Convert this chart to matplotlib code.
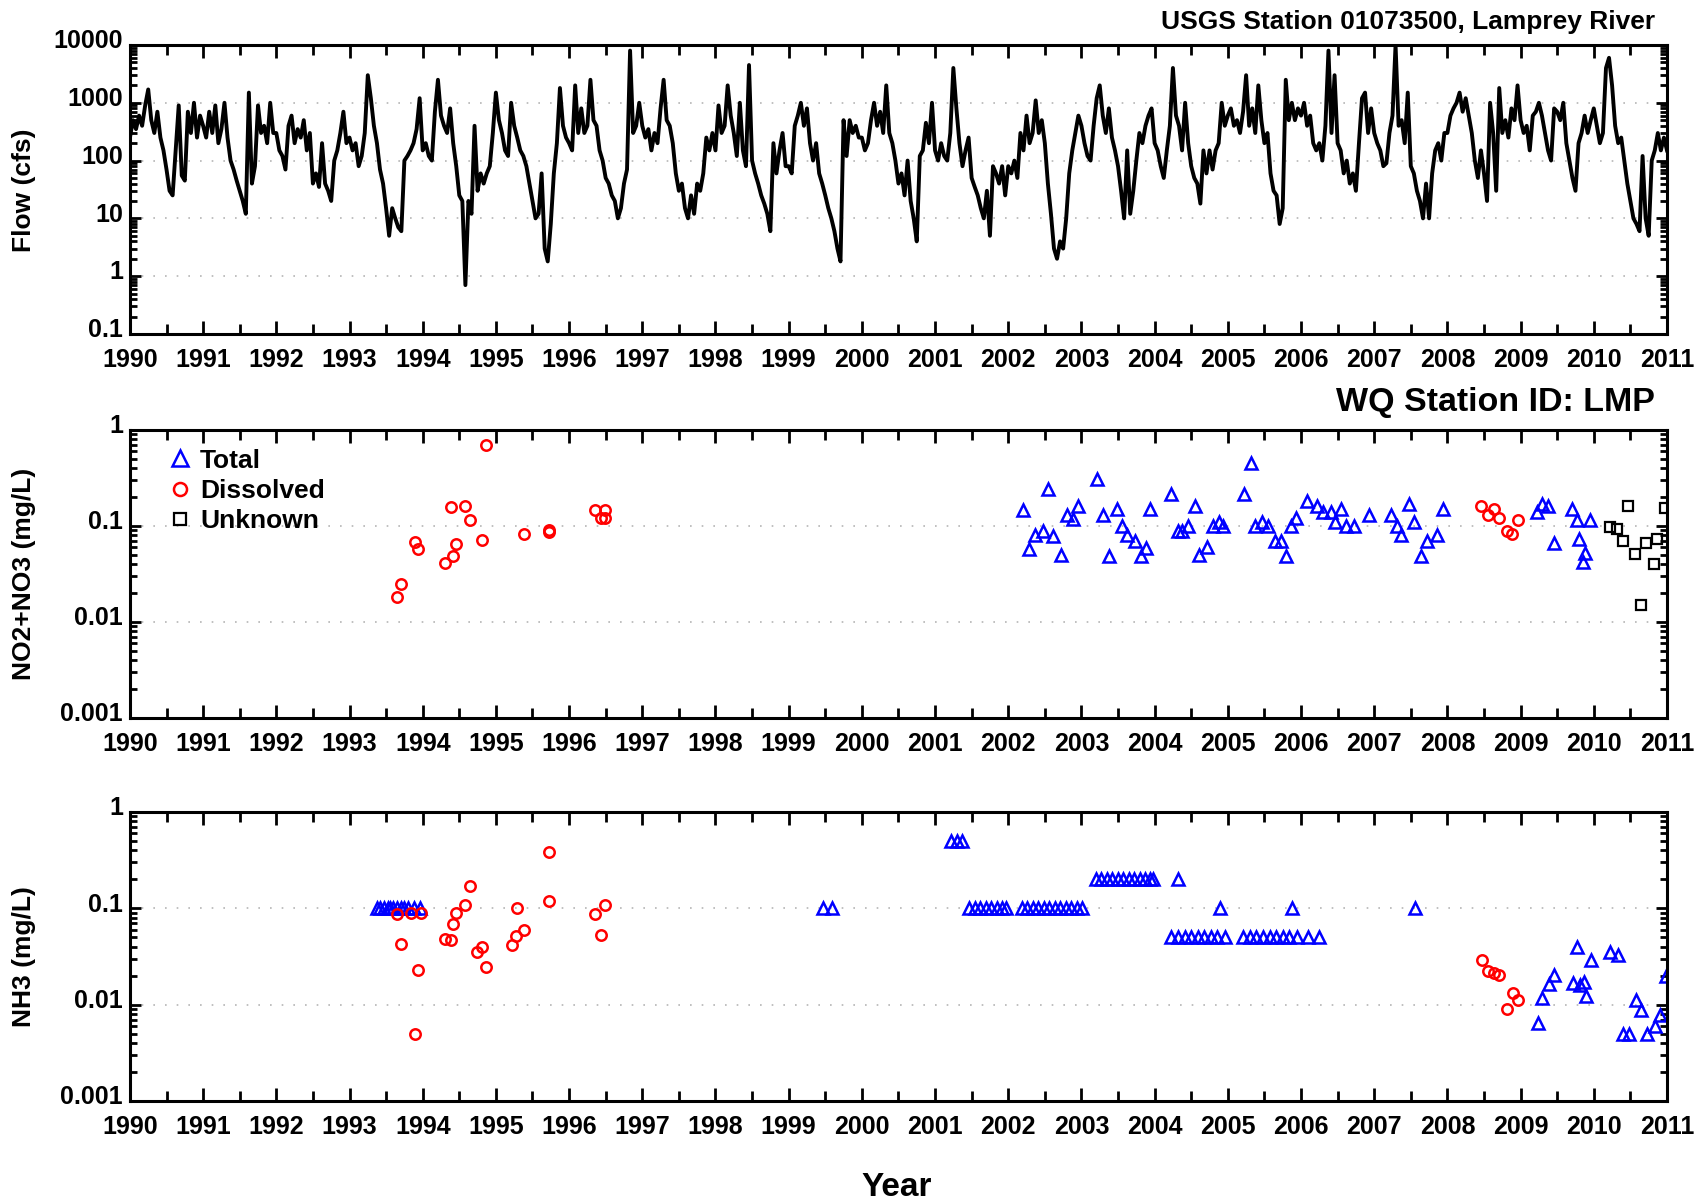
"""Lamprey River flow and nutrient concentrations, 1990-2011."""

import numpy as np
import matplotlib.pyplot as plt
import matplotlib.transforms as mtransforms
from matplotlib.lines import Line2D
from matplotlib.ticker import (FuncFormatter, LogLocator, MultipleLocator,
                               NullFormatter)

plt.rcParams["font.family"] = ["Liberation Sans", "DejaVu Sans"]
plt.rcParams["font.weight"] = "bold"

FLOW_START = 1990
FLOW_CFS = [
    250, 500, 350, 600, 400, 900, 1700, 500, 300, 700, 250, 150, 70, 30, 25, 150, 900, 55, 45, 700, 300, 1000, 250, 600,  # 1990
    400, 250, 700, 300, 900, 200, 350, 1000, 250, 100, 70, 45, 30, 20, 12, 1500, 40, 80, 900, 300, 400, 200, 1000, 300,  # 1991
    300, 150, 120, 70, 400, 600, 200, 350, 250, 500, 150, 300, 40, 60, 35, 200, 40, 30, 20, 100, 150, 300, 700, 200,  # 1992
    250, 150, 200, 80, 120, 300, 3000, 1200, 400, 200, 70, 40, 15, 5, 15, 10, 7, 6, 100, 120, 150, 200, 350, 1200,  # 1993
    150, 200, 120, 100, 700, 2500, 600, 400, 300, 800, 200, 80, 25, 20, 0.7, 20, 12, 400, 30, 60, 40, 60, 80, 300,  # 1994
    1500, 500, 300, 150, 120, 1000, 400, 250, 150, 120, 80, 40, 20, 10, 12, 60, 3, 1.8, 8, 60, 200, 1800, 400, 250,  # 1995
    200, 150, 2000, 300, 800, 300, 400, 2500, 500, 400, 150, 100, 50, 40, 25, 20, 10, 15, 40, 70, 8000, 300, 400, 1000,  # 1996
    400, 250, 350, 150, 300, 200, 800, 2500, 500, 400, 200, 60, 30, 40, 15, 10, 25, 12, 40, 30, 60, 250, 150, 300,  # 1997
    150, 900, 300, 400, 2000, 600, 300, 120, 1000, 150, 80, 4500, 100, 60, 40, 25, 18, 12, 6, 200, 60, 150, 300, 80,  # 1998
    80, 60, 400, 600, 1000, 400, 800, 200, 100, 200, 60, 40, 25, 15, 10, 6, 3, 1.8, 500, 120, 500, 300, 400, 250,  # 1999
    250, 150, 200, 500, 1000, 400, 700, 300, 2000, 300, 200, 100, 40, 60, 25, 100, 20, 10, 4, 120, 150, 450, 200, 1000,  # 2000
    150, 100, 200, 120, 100, 300, 4000, 800, 200, 80, 150, 250, 50, 35, 25, 15, 10, 30, 5, 80, 60, 40, 80, 25,  # 2001
    80, 60, 100, 50, 300, 150, 600, 200, 300, 1100, 300, 500, 200, 40, 12, 3, 2, 4, 3, 10, 60, 150, 300, 600,  # 2002
    400, 200, 120, 100, 400, 1200, 2000, 600, 300, 800, 250, 150, 80, 30, 10, 150, 12, 30, 100, 300, 200, 400, 600, 800,  # 2003
    200, 150, 80, 50, 150, 400, 4000, 600, 400, 150, 1000, 200, 80, 50, 40, 18, 150, 60, 150, 70, 150, 200, 1000, 400,  # 2004
    600, 800, 400, 500, 300, 700, 3000, 400, 800, 300, 2000, 500, 200, 300, 60, 30, 25, 8, 15, 2500, 500, 1000, 500, 800,  # 2005
    600, 1000, 400, 600, 200, 150, 200, 100, 400, 8000, 300, 3000, 200, 150, 60, 100, 40, 60, 30, 200, 1200, 1500, 300, 800,  # 2006
    300, 200, 150, 80, 90, 300, 600, 10000, 400, 500, 200, 1500, 80, 60, 30, 20, 10, 40, 10, 60, 150, 200, 100, 300,  # 2007
    300, 600, 800, 1000, 1500, 700, 1200, 600, 300, 100, 50, 150, 60, 20, 1000, 300, 30, 1800, 300, 500, 250, 800, 500, 2000,  # 2008
    500, 300, 400, 150, 600, 700, 1000, 600, 300, 150, 100, 800, 700, 500, 1000, 200, 100, 50, 30, 200, 300, 600, 300, 500,  # 2009
    800, 400, 200, 300, 4000, 6000, 2000, 400, 200, 250, 100, 40, 20, 10, 8, 6, 120, 10, 5, 100, 150, 300, 150, 250,  # 2010
    150,
]

# NO2+NO3 samples (decimal year, mg/L)
NOX_TOTAL_YEAR = [
    2002.20, 2002.29, 2002.37, 2002.47, 2002.54, 2002.61, 2002.72, 2002.80, 2002.89, 2002.95,
    2003.21, 2003.30, 2003.38, 2003.49, 2003.55, 2003.62, 2003.73, 2003.82, 2003.88, 2003.94,
    2004.22, 2004.32, 2004.38, 2004.45, 2004.55, 2004.61, 2004.72, 2004.80, 2004.88, 2004.93,
    2005.22, 2005.32, 2005.37, 2005.47, 2005.55, 2005.64, 2005.73, 2005.80, 2005.87, 2005.93,
    2006.08, 2006.22, 2006.30, 2006.41, 2006.47, 2006.55, 2006.61, 2006.72, 2006.93,
    2007.23, 2007.31, 2007.36, 2007.47, 2007.55, 2007.64, 2007.72, 2007.86, 2007.94,
    2009.22, 2009.29, 2009.38, 2009.46, 2009.70, 2009.77, 2009.80, 2009.85, 2009.88, 2009.95,
]
NOX_TOTAL_MGL = [
    0.148, 0.058, 0.080, 0.089, 0.240, 0.079, 0.050, 0.129, 0.119, 0.160,
    0.308, 0.129, 0.049, 0.150, 0.099, 0.080, 0.069, 0.049, 0.059, 0.150,
    0.217, 0.089, 0.089, 0.099, 0.160, 0.050, 0.061, 0.099, 0.110, 0.099,
    0.217, 0.448, 0.099, 0.110, 0.099, 0.070, 0.070, 0.049, 0.099, 0.121,
    0.180, 0.160, 0.140, 0.140, 0.110, 0.150, 0.099, 0.099, 0.130,
    0.130, 0.099, 0.080, 0.171, 0.110, 0.049, 0.069, 0.080, 0.150,
    0.140, 0.171, 0.160, 0.067, 0.150, 0.114, 0.073, 0.042, 0.052, 0.114,
]
NOX_DISS_YEAR = [
    1993.65, 1993.70, 1993.89, 1993.94, 1994.30, 1994.38, 1994.41, 1994.45, 1994.58, 1994.64,
    1994.81, 1994.86, 1995.38, 1995.72, 1995.72, 1996.35, 1996.44, 1996.49, 1996.49,
    2008.46, 2008.56, 2008.64, 2008.70, 2008.81, 2008.88, 2008.96,
]
NOX_DISS_MGL = [
    0.018, 0.025, 0.068, 0.058, 0.041, 0.157, 0.049, 0.065, 0.161, 0.114,
    0.072, 0.70, 0.082, 0.091, 0.086, 0.146, 0.121, 0.121, 0.148,
    0.160, 0.130, 0.150, 0.122, 0.089, 0.082, 0.114,
]
NOX_UNK_YEAR = [2010.22, 2010.32, 2010.40, 2010.47, 2010.56, 2010.64, 2010.72, 2010.82, 2010.87, 2010.97]
NOX_UNK_MGL = [0.098, 0.092, 0.069, 0.160, 0.051, 0.0149, 0.066, 0.040, 0.074, 0.154]

# NH3 samples (decimal year, mg/L)
NH3_TOTAL_YEAR = [
    1993.37, 1993.42, 1993.47, 1993.52, 1993.56, 1993.60, 1993.65, 1993.70, 1993.75, 1993.80, 1993.88, 1993.96,
    1999.47, 1999.59,
    2001.22, 2001.30, 2001.37,
    2001.47, 2001.54, 2001.62, 2001.69, 2001.77, 2001.84, 2001.91, 2001.97,
    2002.19, 2002.26, 2002.34, 2002.41, 2002.49, 2002.56, 2002.64, 2002.71, 2002.79, 2002.86, 2002.94, 2003.01,
    2003.20, 2003.27, 2003.35, 2003.42, 2003.50, 2003.57, 2003.65, 2003.72, 2003.80, 2003.87, 2003.93, 2003.98,
    2004.32,
    2004.23, 2004.32, 2004.41, 2004.50, 2004.59, 2004.68, 2004.77, 2004.85, 2004.96,
    2004.89,
    2005.21, 2005.30, 2005.39, 2005.48, 2005.57, 2005.66, 2005.75, 2005.84, 2005.94, 2006.09, 2006.24,
    2005.88,
    2007.56,
    2009.24, 2009.29, 2009.39, 2009.46, 2009.72, 2009.77, 2009.81, 2009.86, 2009.89, 2009.96,
    2010.22, 2010.33, 2010.40, 2010.48, 2010.58, 2010.65, 2010.73, 2010.83, 2010.90, 2010.98,
]
NH3_TOTAL_MGL = (
    [0.1] * 12
    + [0.1, 0.1]
    + [0.5, 0.5, 0.5]
    + [0.1] * 8
    + [0.1] * 12
    + [0.2] * 12
    + [0.2]
    + [0.05] * 9
    + [0.1]
    + [0.05] * 11
    + [0.1]
    + [0.1]
    + [0.0065, 0.0117, 0.0165, 0.0201, 0.0168, 0.0397, 0.0161, 0.0170, 0.0123, 0.0293]
    + [0.0352, 0.0325, 0.0050, 0.0050, 0.0111, 0.0089, 0.0050, 0.0060, 0.0079, 0.0197]
)
NH3_DISS_YEAR = [
    1993.65, 1993.70, 1993.84, 1993.89, 1993.94, 1993.98, 1994.30, 1994.38, 1994.41, 1994.45,
    1994.58, 1994.64, 1994.74, 1994.81, 1994.86, 1995.22, 1995.28, 1995.29, 1995.38, 1995.72,
    1995.72, 1996.35, 1996.44, 1996.49,
    2008.47, 2008.56, 2008.64, 2008.71, 2008.89, 2008.81, 2008.96,
]
NH3_DISS_MGL = [
    0.088, 0.043, 0.090, 0.0050, 0.0229, 0.090, 0.048, 0.047, 0.069, 0.090,
    0.109, 0.171, 0.035, 0.040, 0.0244, 0.042, 0.052, 0.101, 0.060, 0.385,
    0.119, 0.087, 0.053, 0.109,
    0.0291, 0.0224, 0.0213, 0.0201, 0.0131, 0.0091, 0.0111,
]

BLUE = "#0000ff"
RED = "#ff0000"
TRI = dict(marker="^", ms=9, mfc="none", mec=BLUE, mew=1.8, ls="none")
CIRC = dict(marker="o", ms=7.5, mfc="none", mec=RED, mew=1.8, ls="none")
SQR = dict(marker="s", ms=7, mfc="none", mec="black", mew=1.6, ls="none")


def style_axis(ax, ylo, yhi):
    ax.set_xlim(1990, 2011)
    ax.set_yscale("log")
    ax.set_ylim(ylo, yhi)
    ax.xaxis.set_major_locator(MultipleLocator(1))
    ax.xaxis.set_minor_locator(MultipleLocator(0.5))
    ax.xaxis.set_major_formatter(FuncFormatter(lambda v, p: f"{v:.0f}"))
    ax.yaxis.set_major_locator(LogLocator(base=10, numticks=12))
    ax.yaxis.set_minor_locator(LogLocator(base=10, subs=np.arange(2, 10), numticks=12))
    ax.yaxis.set_major_formatter(FuncFormatter(lambda v, p: f"{v:g}"))
    ax.yaxis.set_minor_formatter(NullFormatter())
    ax.tick_params(which="both", direction="in", top=True, right=True, width=2)
    ax.tick_params(which="major", labelsize=18)
    ax.tick_params(axis="x", which="major", length=9.5, pad=10)
    ax.tick_params(axis="x", which="minor", length=7)
    ax.tick_params(axis="y", which="major", length=8, pad=5)
    ax.tick_params(axis="y", which="minor", length=5)
    for sp in ax.spines.values():
        sp.set_linewidth(2.2)
    ax.grid(axis="y", which="major", color="#b5b5b5", linestyle=(0, (1, 6)), linewidth=1.2)
    ax.set_axisbelow(True)
    shift = mtransforms.ScaledTranslation(0, 4.5 / 72, ax.figure.dpi_scale_trans)
    for lbl in ax.yaxis.get_majorticklabels():
        lbl.set_transform(lbl.get_transform() + shift)


fig = plt.figure(figsize=(17.05, 12.03), dpi=100)
ax1 = fig.add_axes([0.0762, 0.7224, 0.9015, 0.2402])
ax2 = fig.add_axes([0.0762, 0.4032, 0.9015, 0.2394])
ax3 = fig.add_axes([0.0762, 0.0848, 0.9015, 0.2402])

# flow
flow_x = FLOW_START + np.arange(len(FLOW_CFS)) / 24.0
ax1.plot(flow_x, FLOW_CFS, color="black", lw=2.8, solid_joinstyle="round")
style_axis(ax1, 0.1, 10000)

# NO2+NO3
ax2.plot(NOX_TOTAL_YEAR, NOX_TOTAL_MGL, **TRI)
ax2.plot(NOX_DISS_YEAR, NOX_DISS_MGL, **CIRC)
ax2.plot(NOX_UNK_YEAR, NOX_UNK_MGL, **SQR)
style_axis(ax2, 0.001, 1)
handles = [Line2D([], [], **TRI), Line2D([], [], **CIRC), Line2D([], [], **SQR)]
ax2.legend(handles, ["Total", "Dissolved", "Unknown"], loc="upper left",
           bbox_to_anchor=(0.025, 0.935), frameon=False, handlelength=0.9,
           handletextpad=0.3, labelspacing=0.24, borderaxespad=0, borderpad=0,
           markerscale=1.25, prop={"size": 19, "weight": "bold"})

# NH3
ax3.plot(NH3_TOTAL_YEAR, NH3_TOTAL_MGL, **TRI)
ax3.plot(NH3_DISS_YEAR, NH3_DISS_MGL, **CIRC)
style_axis(ax3, 0.001, 1)

fig.text(1655 / 1705, 1 - 22 / 1203, "USGS Station 01073500, Lamprey River",
         ha="right", va="center", fontsize=19)
fig.text(1655 / 1705, 1 - 403 / 1203, "WQ Station ID: LMP",
         ha="right", va="center", fontsize=24.5)
fig.text(897 / 1705, 1 - 1188 / 1203, "Year", ha="center", va="center", fontsize=24)
for label, yc in [("Flow (cfs)", 190), ("NO2+NO3 (mg/L)", 574), ("NH3 (mg/L)", 957)]:
    fig.text(24 / 1705, 1 - yc / 1203, label, rotation=90, ha="center", va="center",
             fontsize=19)

fig.savefig("out.png", dpi=100, facecolor="white")
